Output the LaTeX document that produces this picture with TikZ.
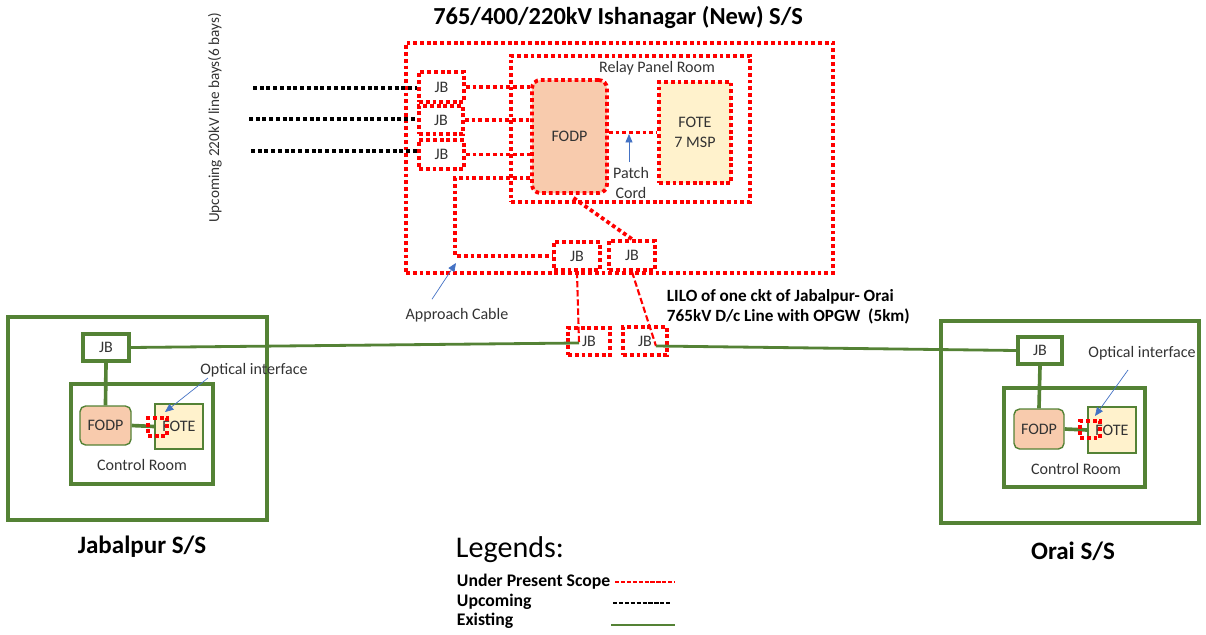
\documentclass[tikz,border=0pt]{standalone}
\usepackage{fontspec}
\setmainfont{Carlito}
\usetikzlibrary{arrows.meta, positioning, calc}

\definecolor{scopered}{HTML}{FF0000}
\definecolor{exgreen}{HTML}{548235}
\definecolor{fodpfill}{HTML}{F8CBAD}
\definecolor{fotefill}{HTML}{FFF2CC}
\definecolor{pointblue}{HTML}{4472C4}
\definecolor{txtgray}{HTML}{333333}

\tikzset{
  present/.style={draw=scopered, line width=2.7pt, dash pattern=on 2.7pt off 2.1pt},
  upcoming/.style={draw=black, line width=2.7pt, dash pattern=on 2.7pt off 2.1pt},
  existing/.style={draw=exgreen, line width=2.6pt},
  linkdash/.style={draw=scopered, line width=1.5pt, dash pattern=on 4.5pt off 2pt},
  sz/.style 2 args={minimum width=#1*0.25mm, minimum height=#2*0.25mm, inner sep=0pt},
  txt/.style={text=txtgray, font=\fontsize{11.4}{14.5}\selectfont},
  bigname/.style={font=\bfseries\fontsize{17.8}{20}\selectfont},
  pointer/.style={draw=pointblue, line width=0.5pt, -{Triangle[length=6pt, width=5pt]}},
  fodpbox/.style={txt, fill=fodpfill, rounded corners=4pt},
  fotebox/.style={txt, fill=fotefill},
}

\begin{document}
\begin{tikzpicture}[x=0.25mm, y=-0.25mm]
\useasboundingbox (0,0) rectangle (1206,635);

% Ishanagar (New) S/S
\node[bigname, font=\bfseries\fontsize{17.4}{20}\selectfont] (ttl) at (618,17) {765/400/220kV Ishanagar (New) S/S};
\node[present, sz={427}{230}] (ish) at (619.5,158) {};
\node[present, sz={239}{146}] (rpr) at (630.5,129) {};
\node[txt] (rprlbl) at (657,68) {Relay Panel Room};
\node[fodpbox, present, rounded corners=6pt, sz={75}{113}] (fodp) at (569.5,136.5) {FODP};
\node[fotebox, present, sz={72}{101}, align=center] (fote) at (695,132.5) {FOTE\\7 MSP};

\node[txt, present, sz={45}{30}] (jb1) at (441.5,87) {JB};
\node[txt, present, sz={44}{28}] (jb2) at (441,120) {JB};
\node[txt, present, sz={45}{29}] (jb3) at (441.5,154.5) {JB};
\node[txt, present, sz={46}{28}] (jb4) at (577,256) {JB};
\node[txt, present, sz={46}{29}] (jb5) at (632,255.5) {JB};
\node[txt, present, sz={42}{27}] (jb6) at (589,341.5) {JB};
\node[txt, present, sz={44}{28}] (jb7) at (645,341) {JB};

% upcoming bays
\node[txt, font=\fontsize{10.8}{13}\selectfont, rotate=90] (bays) at (215,118) {Upcoming 220kV line bays(6 bays)};
\coordinate (up1) at (253,88);
\coordinate (up2) at (249,119);
\coordinate (up3) at (251,151);
\draw[upcoming] (up1) -- (up1 -| jb1.west);
\draw[upcoming] (up2) -- (up2 -| jb2.west);
\draw[upcoming] (up3) -- (up3 -| jb3.west);

\draw[present] (jb1.east) -- (jb1.east -| fodp.west);
\draw[present] (jb2.east) -- (jb2.east -| fodp.west);
\draw[present] (jb3.east) -- (jb3.east -| fodp.west);
\draw[present] (fodp.east |- fote.west) -- (fote.west);
\draw[present] ($(fodp.south)+(4,3)$) -- (jb5.north);

% approach cable
\coordinate (ac) at (455,178);
\draw[present] (fodp.west |- ac) -- (ac) |- (jb4.west);
\node[txt] (aclbl) at (457,315) {Approach Cable};
\coordinate (actip) at (456,263);
\draw[pointer] ($(aclbl.north)+(-25,-4)$) -- (actip);

\node[txt, align=center] (patch) at (631,183) {Patch\\Cord};
\coordinate (pctail) at (629,162);
\coordinate (pctip) at (629,134);
\draw[pointer] (pctail) -- (pctip);

% LILO
\coordinate (ljoin) at (579,343);
\coordinate (rjoin) at (656,346);
\draw[linkdash] (jb4.south) -- (ljoin);
\draw[linkdash] (jb5.south) -- (rjoin);
\node[anchor=west, align=left, font=\bfseries\fontsize{12.2}{14.5}\selectfont] (lilo) at (662,307)
  {LILO of one ckt of Jabalpur- Orai\\765kV D/c Line with OPGW~ (5km)};

% Jabalpur S/S
\node[existing, sz={259}{203}] (jab) at (137.5,418.5) {};
\node[txt, existing, sz={46}{27}] (jabjb) at (106,347.5) {JB};
\node[existing, sz={142}{100}] (jabcr) at (142,434) {};
\node[txt] (jabcrlbl) at (142,465) {Control Room};
\node[fodpbox, draw=exgreen, line width=1pt, sz={51}{39}] (jabfodp) at (105.5,425.5) {FODP};
\node[fotebox, draw=exgreen, line width=1pt, sz={48}{45}] (jabfote) at (179,426.5) {FOTE};
\draw[existing] (jabjb.south) -- (jabfodp.north);
\draw[existing] (jabfodp.east) -- (jabfote.west);
\node[present, sz={19}{18}] (jabopt) at (157.5,427) {};
\node[txt] (jaboptlbl) at (254,370) {Optical interface};
\coordinate (jabtail) at (208,378);
\coordinate (jabtip) at (165,412);
\draw[pointer] (jabtail) -- (jabtip);
\node[bigname] (jabname) at (142,547) {Jabalpur S/S};

% Orai S/S
\node[existing, sz={258}{202}] (orai) at (1070,422) {};
\node[txt, existing, sz={44}{27}] (oraijb) at (1040,350.5) {JB};
\node[existing, sz={141}{99}] (oraicr) at (1074.5,437.5) {};
\node[txt] (oraicrlbl) at (1076,469) {Control Room};
\node[fodpbox, draw=exgreen, line width=1pt, sz={50}{40}] (oraifodp) at (1039,429) {FODP};
\node[fotebox, draw=exgreen, line width=1pt, sz={48}{46}] (oraifote) at (1112,430) {FOTE};
\draw[existing] (oraijb.south) -- (oraifodp.north);
\draw[existing] (oraifodp.east) -- (oraifote.west);
\node[present, sz={20}{17}] (oraiopt) at (1090,429.5) {};
\node[txt] (oraioptlbl) at (1142,353) {Optical interface};
\coordinate (oraitail) at (1128,370);
\coordinate (oraitip) at (1095,416);
\draw[pointer] (oraitail) -- (oraitip);
\node[bigname] (orainame) at (1073,551) {Orai S/S};

% existing line
\draw[existing, line width=2pt] (jabjb.east) -- (ljoin);
\draw[existing, line width=2pt] (rjoin) -- (oraijb.west);

% legend
\node[anchor=west, font=\fontsize{21.4}{24}\selectfont] (lgd) at (451,550) {Legends:};
\node[anchor=west, font=\bfseries\fontsize{12.6}{14}\selectfont] (lg1) at (452,582) {Under Present Scope};
\node[anchor=west, font=\bfseries\fontsize{12.6}{14}\selectfont] (lg2) at (452,602) {Upcoming};
\node[anchor=west, font=\bfseries\fontsize{12.6}{14}\selectfont] (lg3) at (452,621) {Existing};
\coordinate (lr) at (615,582);
\coordinate (lb) at (613,603);
\coordinate (lv) at (611,625);
\draw[scopered, line width=0.8pt, dash pattern=on 3pt off 1.2pt] (lr) -- ++(60,0);
\draw[black, line width=0.8pt, dash pattern=on 3pt off 1.2pt] (lb) -- ++(59,0);
\draw[exgreen, line width=1.6pt] (lv) -- ++(64,0);
\end{tikzpicture}
\end{document}
